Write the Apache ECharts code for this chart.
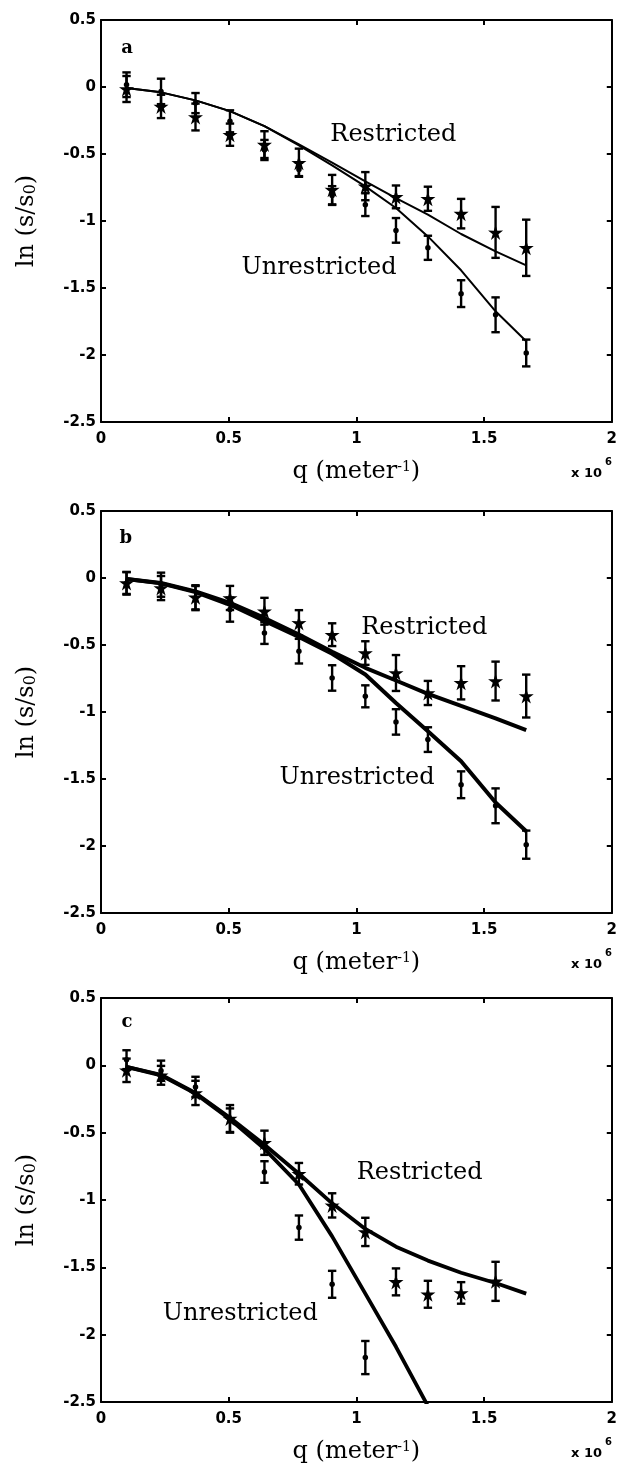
<!DOCTYPE html>
<html>
<head>
<meta charset="utf-8">
<script src="https://cdn.jsdelivr.net/npm/echarts@6/dist/echarts.min.js"></script>
<style>
html,body{margin:0;padding:0;background:#fff;}
#c{width:620px;height:1467px;}
</style>
</head>
<body>
<div id="c"></div>
<script>
// q values (x 10^6 meter^-1)
const q = [0.1, 0.235, 0.37, 0.505, 0.64, 0.775, 0.905, 1.035, 1.155, 1.28, 1.41, 1.545, 1.665];
const xTicks = ['0', '0.5', '1', '1.5', '2'];
const yTicks = ['0.5', '0', '-0.5', '-1', '-1.5', '-2', '-2.5'];

// Panel a
const aRestrictedData = [-0.015, -0.145, -0.224, -0.356, -0.43, -0.565, -0.766, -0.74, -0.82, -0.834, -0.945, -1.085, -1.2];
const aRestrictedErr = [0.097, 0.087, 0.1, 0.083, 0.1, 0.105, 0.11, 0.105, 0.085, 0.09, 0.11, 0.19, 0.21];
const aUnrestrictedData = [0.017, -0.033, -0.12, -0.256, -0.47, -0.615, -0.81, -0.878, -1.07, -1.2, -1.542, -1.7, -1.985];
const aUnrestrictedErr = [0.092, 0.095, 0.075, 0.082, 0.075, 0.05, 0.07, 0.085, 0.092, 0.09, 0.1, 0.13, 0.1];
const aRestrictedFit = [-0.007, -0.04, -0.1, -0.18, -0.292, -0.428, -0.565, -0.705, -0.83, -0.953, -1.097, -1.227, -1.331];
const aUnrestrictedFit = [-0.007, -0.04, -0.1, -0.18, -0.292, -0.435, -0.585, -0.742, -0.903, -1.115, -1.368, -1.674, -1.898];

// Panel b
const bRestrictedData = [-0.037, -0.075, -0.144, -0.149, -0.248, -0.335, -0.423, -0.56, -0.709, -0.858, -0.782, -0.769, -0.881];
const bRestrictedErr = [0.082, 0.09, 0.09, 0.09, 0.1, 0.095, 0.085, 0.088, 0.134, 0.09, 0.124, 0.145, 0.16];
const bUnrestrictedData = [-0.04, -0.05, -0.15, -0.236, -0.41, -0.546, -0.746, -0.883, -1.074, -1.206, -1.543, -1.7, -1.99];
const bUnrestrictedErr = [0.084, 0.09, 0.09, 0.09, 0.082, 0.092, 0.095, 0.082, 0.095, 0.092, 0.1, 0.13, 0.105];
const bRestrictedFit = [-0.007, -0.037, -0.1, -0.186, -0.298, -0.422, -0.55, -0.67, -0.765, -0.865, -0.955, -1.047, -1.136];
const bUnrestrictedFit = [-0.007, -0.04, -0.105, -0.2, -0.32, -0.44, -0.565, -0.72, -0.933, -1.144, -1.368, -1.675, -1.89];

// Panel c
const cRestrictedData = [-0.037, -0.074, -0.205, -0.395, -0.575, -0.805, -1.04, -1.237, -1.608, -1.7, -1.69, -1.604];
const cRestrictedErr = [0.087, 0.07, 0.09, 0.1, 0.09, 0.08, 0.09, 0.105, 0.1, 0.1, 0.08, 0.145];
const cUnrestrictedData = [0.042, -0.04, -0.16, -0.41, -0.792, -1.205, -1.626, -2.17];
const cUnrestrictedErr = [0.07, 0.075, 0.075, 0.09, 0.08, 0.09, 0.1, 0.123];
const cRestrictedFit = [-0.012, -0.07, -0.205, -0.39, -0.59, -0.805, -1.025, -1.215, -1.347, -1.45, -1.54, -1.616, -1.695];
const cUnrestrictedFit = [-0.012, -0.075, -0.21, -0.4, -0.62, -0.885, -1.27, -1.695, -2.09, -2.53];

// annotation texts and their data anchors [q, value]
const panelLetters = ['a', 'b', 'c'];
const letterPos = [[0.077, 0.287], [0.07, 0.296], [0.078, 0.319]];
const restrictedPos = [[0.896, -0.356], [1.017, -0.373], [0.999, -0.797]];
const unrestrictedPos = [[0.548, -1.351], [0.697, -1.493], [0.24, -1.844]];

const panels = [
  {rd: aRestrictedData, re: aRestrictedErr, ud: aUnrestrictedData, ue: aUnrestrictedErr, rf: aRestrictedFit, uf: aUnrestrictedFit, lw: 2},
  {rd: bRestrictedData, re: bRestrictedErr, ud: bUnrestrictedData, ue: bUnrestrictedErr, rf: bRestrictedFit, uf: bUnrestrictedFit, lw: 4},
  {rd: cRestrictedData, re: cRestrictedErr, ud: cUnrestrictedData, ue: cUnrestrictedErr, rf: cRestrictedFit, uf: cUnrestrictedFit, lw: 3.8}
];

const gridTops = [20, 511, 998];
const gridHeights = [402, 402, 404];
const gridLeft = 101, gridWidth = 512;

const STAR = 'path://M50 0 L61.17 34.63 L97.55 34.55 L68.07 55.87 L79.39 90.45 L50 69 L20.61 90.45 L31.93 55.87 L2.45 34.55 L38.83 34.63 Z';
const serif = '"DejaVu Serif", "Liberation Serif", serif';
const sans = '"DejaVu Sans", "Liberation Sans", sans-serif';

function errRender(params, api) {
  const x = api.value(0), lo = api.value(1), hi = api.value(2);
  const p1 = api.coord([x, hi]);
  const p2 = api.coord([x, lo]);
  const cap = 4.2;
  const st = {stroke: '#000', lineWidth: 2.4};
  return {type: 'group', children: [
    {type: 'line', shape: {x1: p1[0], y1: p1[1], x2: p2[0], y2: p2[1]}, style: st},
    {type: 'line', shape: {x1: p1[0] - cap, y1: p1[1], x2: p1[0] + cap, y2: p1[1]}, style: st},
    {type: 'line', shape: {x1: p2[0] - cap, y1: p2[1], x2: p2[0] + cap, y2: p2[1]}, style: st}
  ]};
}

const grid = [], xAxis = [], yAxis = [], series = [], graphic = [];
panels.forEach((p, i) => {
  grid.push({left: gridLeft, width: gridWidth, top: gridTops[i], height: gridHeights[i], containLabel: false});
  const axisLine = {show: true, onZero: false, lineStyle: {color: '#000', width: 2}};
  const tick = {show: true, inside: true, length: 5, lineStyle: {color: '#000', width: 2}};
  xAxis.push({
    type: 'value', gridIndex: i, min: 0, max: 2, interval: 0.5, position: 'bottom',
    axisLine, axisTick: tick, splitLine: {show: false},
    axisLabel: {color: '#000', fontFamily: sans, fontWeight: 'bold', fontSize: 15, margin: 10,
      formatter: (v) => xTicks[Math.round(v / 0.5)]},
    name: 'q (meter{sup|-1})', nameLocation: 'middle', nameGap: 38,
    nameTextStyle: {color: '#000', fontFamily: serif, fontSize: 24,
      rich: {sup: {fontFamily: serif, fontSize: 14, verticalAlign: 'top', color: '#000', padding: [0, 0, 8, 0]}}}
  });
  xAxis.push({
    type: 'value', gridIndex: i, min: 0, max: 2, interval: 0.5, position: 'top',
    axisLine, axisTick: tick, axisLabel: {show: false}, splitLine: {show: false}
  });
  yAxis.push({
    type: 'value', gridIndex: i, min: -2.5, max: 0.5, interval: 0.5, position: 'left',
    axisLine, axisTick: tick, splitLine: {show: false},
    axisLabel: {color: '#000', fontFamily: sans, fontWeight: 'bold', fontSize: 15, margin: 5,
      formatter: (v) => yTicks[Math.round((0.5 - v) / 0.5)]},
    name: 'ln (s/s{sub|0})', nameLocation: 'middle', nameGap: 62, nameRotate: 90,
    nameTextStyle: {color: '#000', fontFamily: serif, fontSize: 24,
      rich: {sub: {fontFamily: serif, fontSize: 16, verticalAlign: 'bottom', color: '#000'}}}
  });
  yAxis.push({
    type: 'value', gridIndex: i, min: -2.5, max: 0.5, interval: 0.5, position: 'right',
    axisLine, axisTick: tick, axisLabel: {show: false}, splitLine: {show: false}
  });
  const xi = 2 * i, yi = 2 * i;
  series.push({
    type: 'line', xAxisIndex: xi, yAxisIndex: yi, symbol: 'none', clip: true,
    data: p.rf.map((v, k) => [q[k], v]), lineStyle: {color: '#000', width: p.lw}, z: 3
  });
  series.push({
    type: 'line', xAxisIndex: xi, yAxisIndex: yi, symbol: 'none', clip: true,
    data: p.uf.map((v, k) => [q[k], v]), lineStyle: {color: '#000', width: p.lw}, z: 3
  });
  series.push({
    type: 'custom', xAxisIndex: xi, yAxisIndex: yi, renderItem: errRender, clip: true,
    encode: {x: 0, y: [1, 2]},
    data: p.rd.map((v, k) => [q[k], v - p.re[k], v + p.re[k]]), z: 4
  });
  series.push({
    type: 'custom', xAxisIndex: xi, yAxisIndex: yi, renderItem: errRender, clip: true,
    encode: {x: 0, y: [1, 2]},
    data: p.ud.map((v, k) => [q[k], v - p.ue[k], v + p.ue[k]]), z: 4
  });
  series.push({
    type: 'scatter', xAxisIndex: xi, yAxisIndex: yi, symbol: STAR, symbolSize: 15,
    itemStyle: {color: '#000', opacity: 1}, data: p.rd.map((v, k) => [q[k], v]), z: 5
  });
  series.push({
    type: 'scatter', xAxisIndex: xi, yAxisIndex: yi, symbol: 'circle', symbolSize: 5.5,
    itemStyle: {color: '#000', opacity: 1}, data: p.ud.map((v, k) => [q[k], v]), z: 5
  });
  series.push({
    type: 'scatter', xAxisIndex: xi, yAxisIndex: yi, symbol: 'circle', symbolSize: 1,
    itemStyle: {color: '#000', opacity: 0}, silent: true, z: 6,
    label: {show: true, position: 'right', distance: 0, formatter: '{b}', color: '#000', opacity: 1,
      fontFamily: serif, fontSize: 24},
    data: [
      {name: 'Restricted', value: restrictedPos[i]},
      {name: 'Unrestricted', value: unrestrictedPos[i]}
    ]
  });
  series.push({
    type: 'scatter', xAxisIndex: xi, yAxisIndex: yi, symbol: 'circle', symbolSize: 1,
    itemStyle: {color: '#000', opacity: 0}, silent: true, z: 6,
    label: {show: true, position: 'right', distance: 0, formatter: '{b}', color: '#000', opacity: 1,
      fontFamily: serif, fontWeight: 'bold', fontSize: 18},
    data: [{name: panelLetters[i], value: letterPos[i]}]
  });
  const by = gridTops[i] + gridHeights[i];
  graphic.push({type: 'text', left: 571, top: by + 45, style: {text: 'x 10', font: 'bold 13px ' + sans, fill: '#000'}});
  graphic.push({type: 'text', left: 605, top: by + 35, style: {text: '6', font: 'bold 10px ' + sans, fill: '#000'}});
});

const chart = echarts.init(document.getElementById('c'), null, {renderer: 'canvas'});
chart.setOption({
  animation: false,
  backgroundColor: '#fff',
  grid, xAxis, yAxis, series, graphic
});
</script>
</body>
</html>
